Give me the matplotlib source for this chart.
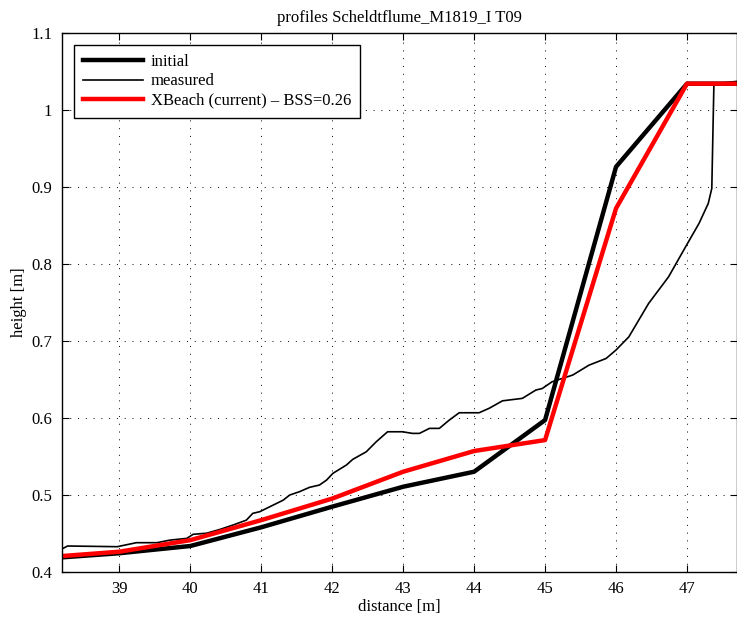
import numpy as np
import matplotlib
matplotlib.use('Agg')
from matplotlib import pyplot as plt

plt.rcParams['font.family'] = ['Liberation Serif', 'DejaVu Serif']
plt.rcParams['font.size'] = 12

# profiles
x_initial = [38.2, 39.0, 40.0, 41.0, 42.0, 43.0, 44.0, 45.0, 46.0, 47.0, 47.7]
z_initial = [0.4187, 0.424, 0.4334, 0.4577, 0.4845, 0.5104, 0.5299, 0.597, 0.926, 1.034, 1.034]

x_xbeach = [38.2, 39.0, 40.0, 41.0, 42.0, 43.0, 44.0, 45.0, 46.0, 47.0, 47.7]
z_xbeach = [0.4204, 0.426, 0.441, 0.467, 0.495, 0.5299, 0.5568, 0.571, 0.872, 1.034, 1.034]

x_measured = [38.2, 38.27, 38.97, 39.24, 39.53, 39.71, 39.95, 40.04, 40.23, 40.42,
              40.6, 40.79, 40.88, 40.98, 41.12, 41.31, 41.4, 41.54, 41.68, 41.82,
              41.92, 42.01, 42.2, 42.29, 42.48, 42.62, 42.78, 42.99, 43.13, 43.23,
              43.37, 43.51, 43.65, 43.79, 44.07, 44.21, 44.4, 44.68, 44.87, 44.96,
              45.1, 45.39, 45.62, 45.86, 46.0, 46.18, 46.46, 46.74, 46.98, 47.17,
              47.3, 47.35, 47.37, 47.38, 47.5, 47.7]
z_measured = [0.430, 0.4334, 0.4325, 0.4377, 0.4377, 0.441, 0.4433, 0.4486, 0.45, 0.455,
              0.4606, 0.467, 0.4758, 0.478, 0.4844, 0.493, 0.4996, 0.504, 0.5096, 0.5126,
              0.519, 0.5278, 0.5386, 0.546, 0.5558, 0.5688, 0.5818, 0.5818, 0.5797, 0.5797,
              0.5862, 0.5862, 0.597, 0.6065, 0.6065, 0.6122, 0.622, 0.6252, 0.636, 0.638,
              0.6468, 0.6555, 0.6684, 0.677, 0.688, 0.705, 0.7486, 0.783, 0.822, 0.8525,
              0.8784, 0.898, 0.99, 1.034, 1.035, 1.037]

bss = 0.26
xticks = [39, 40, 41, 42, 43, 44, 45, 46, 47]
yticks = [0.4, 0.5, 0.6, 0.7, 0.8, 0.9, 1.0, 1.1]
yticklabels = ['0.4', '0.5', '0.6', '0.7', '0.8', '0.9', '1', '1.1']

fig = plt.figure(figsize=(7.37, 6.24), dpi=100)
ax = fig.add_axes([0.084, 0.0838, 0.9155, 0.8635])

ax.plot(x_initial, z_initial, color='k', lw=3.2, label='initial')
ax.plot(x_measured, z_measured, color='k', lw=1.2, label='measured')
ax.plot(x_xbeach, z_xbeach, color='#ff0000', lw=3.2,
        label='XBeach (current) \u2013 BSS=%.2f' % bss)

ax.set_xlim(38.19, 47.7)
ax.set_ylim(0.4, 1.1)
ax.set_xticks(xticks)
ax.set_yticks(yticks)
ax.set_yticklabels(yticklabels)
ax.grid(True, color='k', linestyle=(0, (1, 7)), lw=0.7)
ax.tick_params(direction='in', top=True, right=True, length=5, width=0.8, pad=7)
for s in ax.spines.values():
    s.set_linewidth(1.0)

ax.set_title('profiles Scheldtflume_M1819_I T09', fontsize=12, pad=8)
ax.set_xlabel('distance [m]', labelpad=1)
ax.set_ylabel('height [m]', labelpad=3)

leg = ax.legend(loc='upper left', fancybox=False, framealpha=1, edgecolor='k',
                handlelength=3.6, borderaxespad=0.72, labelspacing=0.2,
                borderpad=0.55, handletextpad=0.45, fontsize=12)
leg.get_frame().set_linewidth(1.0)

plt.savefig('out.png', dpi=100)
